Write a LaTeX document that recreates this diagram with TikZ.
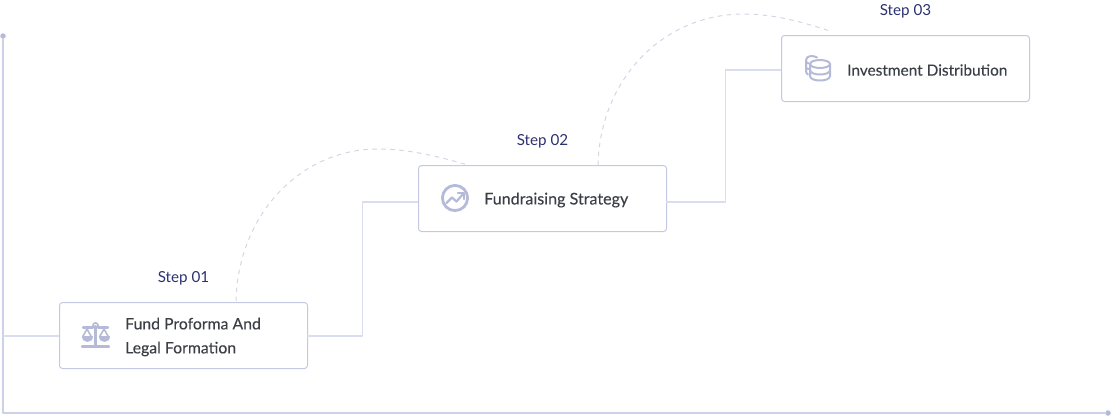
\documentclass[tikz,border=0pt]{standalone}
\usepackage{fontspec}
\setmainfont{Lato}
\newfontfamily\boxfont[FakeBold=0.15]{Lato}
\usepackage{xcolor}
\usetikzlibrary{positioning}
\definecolor{boxline}{HTML}{C4C9E3}
\definecolor{linkline}{HTML}{DADDEF}
\definecolor{dashline}{HTML}{D3D6E3}
\definecolor{iconfill}{HTML}{B5BAD9}
\definecolor{stepcol}{HTML}{2B3070}
\definecolor{textcol}{HTML}{3C3F46}

\begin{document}
\begin{tikzpicture}[x=1pt,y=-1pt,line join=round,
	box/.style={draw=boxline,line width=1pt,rounded corners=3pt,fill=white,minimum width=248pt,minimum height=66pt,inner sep=0pt},
	link/.style={draw=linkline,line width=1.5pt},
	axis/.style={draw=boxline!85!white,line width=1.6pt},
	dots/.style={circle,fill=iconfill,inner sep=0pt,minimum size=5.5pt},
	arcline/.style={draw=dashline,line width=1pt,dash pattern=on 4.5pt off 4.5pt},
	steplabel/.style={text=stepcol,font=\fontsize{15.2}{18}\selectfont},
	boxlabel/.style={text=textcol,anchor=west,align=left,inner sep=0pt,font=\boxfont\fontsize{15.8}{24}\selectfont},
	icon/.style={draw=iconfill,line width=2pt,line cap=round}]

	\useasboundingbox (0,0) rectangle (1111,416);

	% The axes
	\node [dots] at (3,36) (top) {};
	\node [dots] at (1108,413) (end) {};
	\coordinate (corner) at (3,413);
	\draw [axis] (top) -- (corner) -- (end);

	% The boxes
	\node [box] at (183.5,335.5) (fund) {};
	\node [box] at (542.5,198.5) (raise) {};
	\node [box] at (905.5,68.5) (invest) {};

	\coordinate (in1) at (59,336);
	\coordinate (out1) at (307,336);
	\coordinate (start1) at (3,336);
	\coordinate (in2) at (418,202);
	\coordinate (out2) at (666,202);
	\coordinate (in3) at (781,70);

	% Box links
	\draw [link] (start1) -- (in1);
	\draw [link] (out1) -- (362.5,336) |- (in2);
	\draw [link] (out2) -- (725.5,202) |- (in3);

	% Dashed arcs
	\coordinate (a1) at (236,301);
	\coordinate (b1) at (468,165);
	\coordinate (a2) at (598,165);
	\coordinate (b2) at (830,31);
	\draw [arcline] (a1) .. controls (238,215) and (300,149) .. (378,149) .. controls (410,149) and (440,157) .. (b1);
	\draw [arcline] (a2) .. controls (600,80) and (662,14) .. (744,14) .. controls (775,14) and (805,23) .. (b2);

	% Labels
	\node [steplabel] at (183.5,278) (step1) {Step 01};
	\node [steplabel] at (542.5,141) (step2) {Step 02};
	\node [steplabel] at (905.5,11) (step3) {Step 03};
	\node [boxlabel] at (125,337) (fundtext) {Fund Proforma And\\Legal Formation};
	\node [boxlabel,font=\boxfont\fontsize{16.1}{24}\selectfont] at (484,200) (raisetext) {Fundraising Strategy};
	\node [boxlabel,font=\boxfont\fontsize{15.4}{24}\selectfont] at (847,70) (investtext) {Investment Distribution};

	% Scales icon
	\draw [icon,line width=2.4pt] (82,346.5) -- (109,346.5);
	\draw [icon,line width=2.2pt] (95.5,326) -- (95.5,346.5);
	\draw [icon,line width=2.2pt] (83,327.5) -- (93,327.5) (98,327.5) -- (108,327.5);
	\draw [icon,line width=1.6pt] (95.5,325.5) circle (2.6);
	\draw [icon,line width=1.6pt] (82.5,337) -- (87,329) -- (91.5,337) (99.5,337) -- (104,329) -- (108.5,337);
	\fill [iconfill] (81.5,335.5) .. controls (81.5,344) and (92.5,344) .. (92.5,335.5) -- cycle;
	\fill [iconfill] (98.5,335.5) .. controls (98.5,344) and (109.5,344) .. (109.5,335.5) -- cycle;

	% Chart icon
	\draw [icon,line width=2.8pt] (455,198) circle (12.6);
	\draw [icon,line width=2.2pt] (446.5,203) -- (452,197.5) -- (456.5,201.5) -- (463,194);
	\draw [icon,line width=2.2pt] (458,193) -- (464,193) -- (464,199);

	% Coins icon
	\draw [icon,line width=2pt] (820,64) ellipse (10 and 4);
	\draw [icon,line width=2pt] (810,64) -- (810,76) .. controls (810,82) and (830,82) .. (830,76) -- (830,64);
	\draw [icon,line width=2pt] (810,70) .. controls (810,76) and (830,76) .. (830,70);
	\draw [icon,line width=2pt] (817,57.5) .. controls (815,56.5) and (813,56) .. (812,56) .. controls (808,56) and (806,58) .. (806,60) -- (806,71) .. controls (806,73) and (807,74) .. (808,74.5);
	\draw [icon,line width=2pt] (806,62) -- (808.5,63.5) (806,68) -- (808.5,69);

\end{tikzpicture}
\end{document}
